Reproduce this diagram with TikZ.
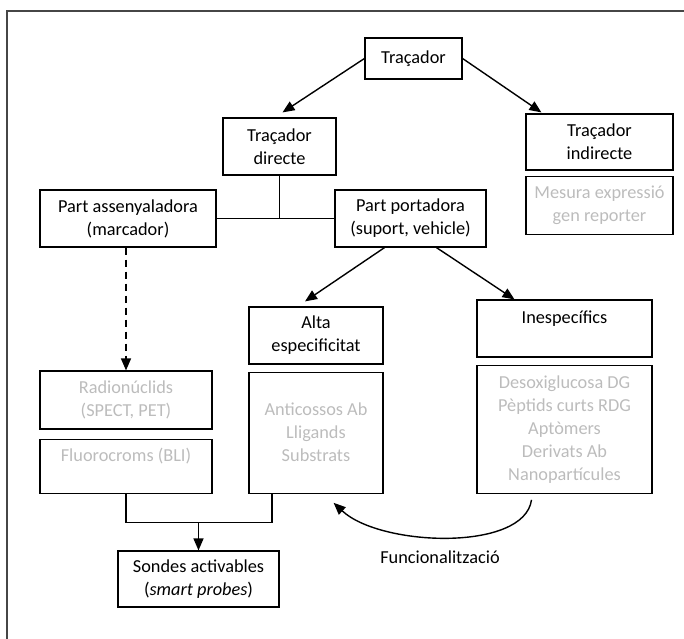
\documentclass[tikz,border=0pt]{standalone}
\usepackage{fontspec}
\setmainfont{Carlito}
\usetikzlibrary{positioning, arrows.meta}
\definecolor{lightink}{RGB}{188,188,188}
\definecolor{frameink}{RGB}{70,70,70}

\begin{document}
\begin{tikzpicture}[x=1pt, y=-1pt, node distance=7pt,
  box/.style={draw, rectangle, line width=1.2pt, align=center, inner sep=2pt, font=\fontsize{18.3}{23}\selectfont},
  faint/.style={box, text=lightink},
  arr/.style={-{Triangle[length=12pt, width=10pt]}, line width=1.4pt}]
\clip (0,0) rectangle (684,638);
\draw[frameink, line width=1.5pt] (7,11) rectangle (700,660);

\node (tracer) [box, minimum width=97pt, minimum height=41pt] at (413.5,58.5) {Traçador};
\node (direct) [box, minimum width=113pt, minimum height=57pt] at (279.5,146.5) {Traçador\\directe};
\node (indirect) [box, minimum width=147pt, minimum height=56pt] at (599.5,142) {Traçador\\indirecte};
\node (reporter) [faint, below=5pt of indirect, minimum width=147pt, minimum height=58pt] {Mesura expressió\\gen reporter};
\node (marker) [box, minimum width=176pt, minimum height=57pt] at (128,218.5) {Part assenyaladora\\(marcador)};
\node (carrier) [box, minimum width=151pt, minimum height=57pt] at (410.5,218.5) {Part portadora\\(suport, vehicle)};
\node (high) [box, minimum width=134pt, minimum height=57pt] at (316,335.5) {Alta\\especificitat};
\node (highlist) [faint, below=of high, minimum width=134pt, minimum height=121pt] {Anticossos Ab\\Lligands\\Substrats};
\node (nonspec) [box, minimum width=175pt, minimum height=57pt] at (564.5,328.5) {Inespecífics\\~};
\node (nonlist) [faint, below=of nonspec, minimum width=175pt, minimum height=128pt] {Desoxiglucosa DG\\Pèptids curts RDG\\Aptòmers\\Derivats Ab\\Nanopartícules};
\node (radio) [faint, minimum width=172pt, minimum height=58pt] at (126,400) {Radionúclids\\(SPECT, PET)};
\node (fluoro) [faint, below=9pt of radio, minimum width=172pt, minimum height=54pt] {Fluorocroms (BLI)\\~};
\node (smart) [box, minimum width=161pt, minimum height=56pt] at (198.5,579) {Sondes activables\\(\textit{smart probes})};
\node (funclabel) [font=\fontsize{18.3}{23}\selectfont] at (440,557) {Funcionalització};
\coordinate (join) at ([yshift=28pt]smart.north);

\draw[arr] (tracer.west) -- ([xshift=3pt, yshift=5pt]direct.north);
\draw[arr] (tracer.east) -- ([xshift=16pt, yshift=1pt]indirect.north west);
\draw[line width=1.2pt] (marker.east) -- (carrier.west);
\draw[line width=1.2pt] (direct.south) -- (direct.south |- marker.east);
\draw[arr, dash pattern=on 7pt off 5pt] (radio.north |- marker.south) -- (radio.north);
\draw[arr] ([xshift=-26pt]carrier.south) -- ([xshift=-11pt, yshift=5pt]high.north);
\draw[arr] ([xshift=26pt]carrier.south) -- ([xshift=-50pt]nonspec.north);
\draw[line width=1.2pt] (fluoro.south) |- (join) -| ([xshift=-44pt]highlist.south);
\draw[arr] (join) -- (smart.north);
\draw[arr] ([xshift=-33pt, yshift=-6pt]nonlist.south) .. controls +(-7,52) and +(47,44) .. ([xshift=-50pt, yshift=-9pt]highlist.south east);
\end{tikzpicture}
\end{document}
